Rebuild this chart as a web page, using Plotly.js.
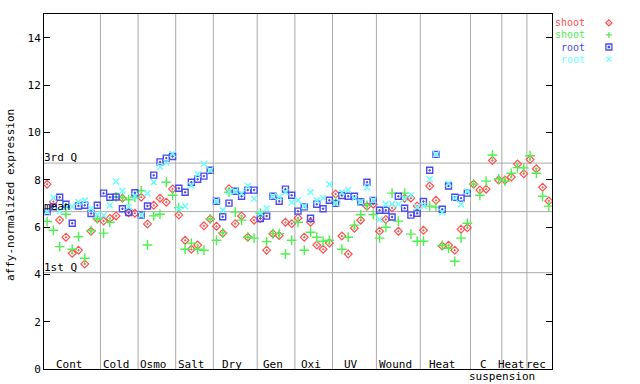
<!DOCTYPE html>
<html>
<head>
<meta charset="utf-8">
<script src="https://cdn.plot.ly/plotly-3.0.1.min.js"></script>
<style>
  html, body { margin: 0; padding: 0; background: #ffffff; }
  #chart { width: 640px; height: 384px; }
</style>
</head>
<body>
<div id="chart"></div>
<script>
// ---- data ----
const groupNames = ['Cont', 'Cold', 'Osmo', 'Salt', 'Dry', 'Gen', 'Oxi', 'UV', 'Wound', 'Heat', 'C', 'Heat', 'rec'];
const groupSizes = [9, 6, 6, 6, 7, 6, 6, 7, 7, 8, 5, 4, 4];

const seriesNames = ['shoot', 'shoot', 'root', 'root'];

const shootRed = [
  7.81, 7.07, 6.30, 5.57, 4.89, 5.02, 4.44, 5.82, 6.35, 6.25,
  6.36, 6.47, 7.22, 6.60, 6.58, 7.26, 6.13, 6.92, 7.22, 7.05,
  7.61, 6.51, 5.44, 5.06, 5.24, 6.05, 6.34, 6.03, 5.74, 7.62,
  6.14, 6.47, 5.57, 6.29, 6.36, 5.02, 5.72, 5.64, 6.20, 6.14,
  6.38, 5.57, 6.20, 5.24, 5.06, 5.32, 7.39, 5.62, 4.86, 5.95,
  6.29, 6.88, 6.96, 5.82, 6.32, 6.81, 5.82, 7.22, 7.22, 6.89,
  5.86, 7.73, 7.13, 5.20, 5.23, 5.02, 5.91, 5.97, 7.81, 7.56,
  7.60, 8.81, 7.99, 7.99, 8.11, 8.66, 8.25, 8.85, 8.46, 7.68, 7.10
];
const shootGreen = [
  6.23, 5.86, 5.17, 6.54, 5.06, 5.59, 4.68, 5.85, 6.34, 5.74,
  6.20, 7.27, 7.24, 7.15, 7.26, 7.53, 5.24, 6.47, 6.54, 7.89,
  7.34, 6.82, 5.06, 5.32, 5.06, 5.02, 6.34, 5.44, 5.75, 7.47,
  6.63, 6.29, 5.57, 5.53, 6.58, 5.38, 5.72, 5.72, 4.86, 5.44,
  6.20, 5.02, 5.78, 5.57, 5.40, 5.44, 7.06, 5.06, 5.57, 6.08,
  6.52, 6.91, 6.53, 5.53, 5.99, 7.43, 6.25, 7.43, 5.70, 5.40,
  5.40, 6.88, 6.84, 5.22, 5.10, 4.55, 5.53, 6.16, 7.81, 7.34,
  7.94, 9.04, 8.03, 7.94, 8.27, 8.51, 8.50, 9.01, 8.27, 7.30, 6.88
];
const rootBlue = [
  6.65, 6.85, 7.26, 6.96, 6.16, 6.89, 6.92, 6.57, 6.92, 7.43,
  7.26, 7.27, 6.77, 6.61, 7.45, 6.51, 6.89, 8.19, 8.75, 8.91,
  8.98, 7.64, 7.47, 7.89, 8.02, 8.15, 8.40, 7.09, 6.43, 7.01,
  7.51, 7.30, 7.56, 7.56, 6.36, 6.46, 7.30, 7.09, 7.60, 7.34,
  6.67, 6.85, 6.37, 6.96, 6.77, 7.13, 7.00, 7.33, 7.30, 7.30,
  7.07, 7.89, 7.12, 6.71, 6.71, 6.42, 7.30, 6.79, 6.50, 6.58,
  7.08, 8.40, 9.07, 6.75, 7.73, 7.26, 7.22, 7.43
];
const rootCyan = [
  6.65, 7.24, 6.68, 6.85, 6.86, 7.06, 7.12, 6.77, 6.52, 6.50,
  6.92, 7.92, 7.53, 6.85, 7.29, 6.51, 7.43, 7.89, 8.55, 8.72,
  9.08, 6.77, 6.88, 7.75, 8.23, 8.66, 8.40, 7.09, 6.71, 7.50,
  7.51, 7.43, 7.73, 7.19, 6.58, 6.79, 7.30, 7.27, 7.47, 7.05,
  7.13, 6.88, 7.47, 7.13, 7.22, 7.81, 7.00, 7.47, 7.56, 7.22,
  7.07, 7.67, 7.13, 6.32, 6.96, 6.96, 6.96, 7.20, 7.34, 6.83,
  6.89, 8.02, 9.07, 6.62, 7.84, 7.22, 6.96, 7.50
];

const quartileLabels = ['3rd Q', 'mean', '1st Q'];
const quartileValues = [8.70, 6.65, 4.07];

// ---- styling ----
const FONT = 'DejaVu Sans Mono, Liberation Mono, monospace';
const COLORS = ['#ff5050', '#4ef04e', '#4a4af0', '#66ffff'];
const GRID = '#aaaaaa';

const idx = n => Array.from({length: n}, (_, i) => i);

const traces = [
  {x: idx(shootRed.length), y: shootRed, name: seriesNames[0], type: 'scatter', mode: 'markers',
   marker: {symbol: 'diamond-open-dot', size: 6, color: COLORS[0], line: {width: 1.2, color: COLORS[0]}}},
  {x: idx(shootGreen.length), y: shootGreen, name: seriesNames[1], type: 'scatter', mode: 'markers',
   marker: {symbol: 'cross-thin-open', size: 7, color: COLORS[1], line: {width: 1.4, color: COLORS[1]}}},
  {x: idx(rootBlue.length), y: rootBlue, name: seriesNames[2], type: 'scatter', mode: 'markers',
   marker: {symbol: 'square-open-dot', size: 6, color: COLORS[2], line: {width: 1.4, color: COLORS[2]}}},
  {x: idx(rootCyan.length), y: rootCyan, name: seriesNames[3], type: 'scatter', mode: 'markers',
   marker: {symbol: 'x-thin-open', size: 6, color: COLORS[3], line: {width: 1.4, color: COLORS[3]}}}
];

const nSamples = groupSizes.reduce((a, b) => a + b, 0);
const shapes = [];
const annotations = [];

// group separators and labels
let start = -0.5;
groupSizes.forEach((sz, gi) => {
  const end = start + sz;
  if (gi < groupSizes.length - 1) {
    shapes.push({type: 'line', xref: 'x', yref: 'paper', x0: end, x1: end, y0: 0, y1: 1,
                 line: {color: GRID, width: 1}, layer: 'below'});
  }
  const center = (start + end) / 2 - 0.5;
  annotations.push({text: groupNames[gi], xref: 'x', yref: 'paper', x: center, y: 0,
                    xanchor: 'center', yanchor: 'middle', yshift: 5, showarrow: false,
                    font: {family: FONT, size: 11, color: '#000'}});
  if (groupNames[gi] === 'C') {
    annotations.push({text: 'suspension', xref: 'x', yref: 'paper', x: end, y: 0,
                      xanchor: 'center', yanchor: 'middle', yshift: -7, showarrow: false,
                      font: {family: FONT, size: 11, color: '#000'}});
  }
  start = end;
});

// quartile lines
quartileValues.forEach((v, i) => {
  shapes.push({type: 'line', xref: 'paper', yref: 'y', x0: 0, x1: 1, y0: v, y1: v,
               line: {color: GRID, width: 1}, layer: 'below'});
  annotations.push({text: quartileLabels[i], xref: 'paper', yref: 'y', x: 0, y: v,
                    xanchor: 'left', yanchor: 'bottom', xshift: -2, yshift: -3, showarrow: false,
                    font: {family: FONT, size: 11, color: '#000'}});
});

// y axis title
annotations.push({text: 'affy-normalized expression', xref: 'paper', yref: 'paper',
                  x: -0.067, y: 0.49, xanchor: 'center', yanchor: 'middle', textangle: -90,
                  showarrow: false, font: {family: FONT, size: 11, color: '#000'}});

// custom legend (text left, marker right)
const legY = [0.975, 0.941, 0.907, 0.873];
const legTextX = 1.066, legMarkX = 1.112;
seriesNames.forEach((nm, i) => {
  annotations.push({text: nm, xref: 'paper', yref: 'paper', x: legTextX, y: legY[i],
                    xanchor: 'right', yanchor: 'middle', showarrow: false,
                    borderpad: 0,
                    font: {family: FONT, size: 10, color: COLORS[i]}});
});
const legendPaths = [
  'M0,-3 L3,0 L0,3 L-3,0 Z M0,-0.5 L0,0.5',
  'M-3,0 L3,0 M0,-3 L0,3',
  'M-3,-3 L3,-3 L3,3 L-3,3 Z M-0.6,-0.6 L0.6,-0.6 L0.6,0.6 L-0.6,0.6 Z',
  'M-2.5,-2.5 L2.5,2.5 M-2.5,2.5 L2.5,-2.5'
];
legendPaths.forEach((p, i) => {
  shapes.push({type: 'path', path: p, xref: 'paper', yref: 'paper', xsizemode: 'pixel', ysizemode: 'pixel',
               xanchor: legMarkX, yanchor: legY[i], line: {color: COLORS[i], width: 1.3}});
});

const layout = {
  width: 640, height: 384,
  margin: {l: 44, r: 88, t: 14, b: 15, pad: 0},
  paper_bgcolor: '#ffffff', plot_bgcolor: '#ffffff',
  showlegend: false,
  xaxis: {range: [-0.5, nSamples - 0.5], showline: true, mirror: true, linecolor: '#000', linewidth: 1,
          showticklabels: false, ticks: '', showgrid: false, zeroline: false, fixedrange: true},
  yaxis: {range: [0, 15], tick0: 0, dtick: 2, ticks: 'inside', ticklen: 6, tickcolor: '#000', tickwidth: 1,
          showline: true, mirror: 'ticks', linecolor: '#000', linewidth: 1, showgrid: false, zeroline: false,
          tickfont: {family: FONT, size: 11, color: '#000'}, fixedrange: true},
  shapes: shapes,
  annotations: annotations
};

Plotly.newPlot('chart', traces, layout, {staticPlot: true, displayModeBar: false});
</script>
</body>
</html>
